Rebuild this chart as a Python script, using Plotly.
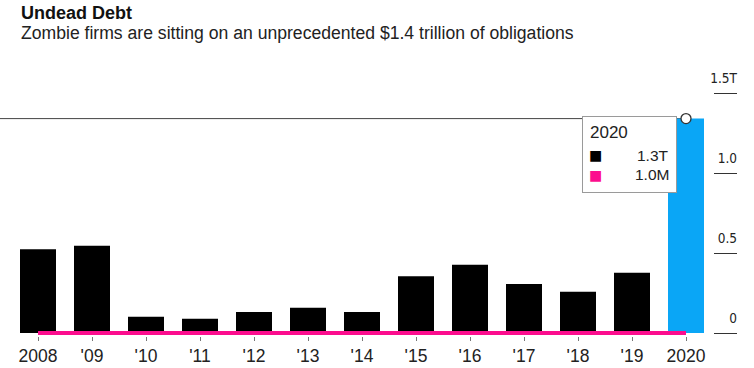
import plotly.graph_objects as go

# ---- data ----
year_labels = ["2008", "'09", "'10", "'11", "'12", "'13", "'14", "'15", "'16", "'17", "'18", "'19", "2020"]
zombie_debt_t = [0.523, 0.545, 0.102, 0.089, 0.131, 0.158, 0.131, 0.354, 0.427, 0.306, 0.258, 0.377, 1.34]
second_series_t = [0.000001, 0.000001, 0.000001, 0.000001, 0.000001, 0.000001, 0.000001,
                   0.000001, 0.000001, 0.000001, 0.000001, 0.000001, 0.000001]
y_tick_vals = [0, 0.5, 1.0, 1.5]
y_tick_text = ["0", "0.5", "1.0", "1.5T"]
tooltip_title = "2020"
tooltip_values = ["1.3T", "1.0M"]

title_text = "Undead Debt"
subtitle_text = "Zombie firms are sitting on an unprecedented $1.4 trillion of obligations"

# ---- style ----
W, H = 754, 368
L, R, T, B = 0, 713, 60, 336
PX_PER_T = 160.0
BLACK = "#000000"
PINK = "#fc0d8e"
BLUE = "#0aa6f6"
TXT = "#222222"
FONT = "Liberation Sans, Arial, sans-serif"
LABEL_LIFT = 15  # px the y tick labels sit above their tick lines

hl = len(year_labels) - 1
bar_colors = [BLACK] * hl + [BLUE]

y_lo = -(B - 333) / PX_PER_T
y_hi = y_lo + (B - T) / PX_PER_T

fig = go.Figure()
fig.add_trace(go.Bar(x=year_labels, y=zombie_debt_t, marker=dict(color=bar_colors, line=dict(width=0)),
                     hoverinfo="skip", showlegend=False))
fig.add_trace(go.Scatter(x=year_labels, y=second_series_t, mode="lines",
                         line=dict(color=PINK, width=4), hoverinfo="skip", showlegend=False))

# invisible helper trace so the label axis exists
fig.add_trace(go.Scatter(x=[year_labels[0]], y=[None], yaxis="y2", mode="markers",
                         hoverinfo="skip", showlegend=False))

# hover crosshair line at highlighted value
hv = zombie_debt_t[hl]
fig.add_shape(type="line", xref="paper", yref="y", x0=0, x1=(686 - L) / (R - L), y0=hv, y1=hv,
              line=dict(color="#444444", width=1), layer="below")
fig.add_trace(go.Scatter(x=[year_labels[hl]], y=[hv], mode="markers",
                         marker=dict(size=10, color="white", line=dict(color="#333333", width=1.3)),
                         cliponaxis=False, hoverinfo="skip", showlegend=False))


def px2paper_y(py):
    return (B - py) / (B - T)


def px2paper_x(px):
    return (px - L) / (R - L)


ann = []
ann.append(dict(text="<b>%s</b>" % title_text, xref="paper", yref="paper", x=px2paper_x(19), y=px2paper_y(12.5),
                xanchor="left", yanchor="middle", showarrow=False, font=dict(size=18, color="#111111", family=FONT)))
ann.append(dict(text=subtitle_text, xref="paper", yref="paper", x=px2paper_x(19), y=px2paper_y(33),
                xanchor="left", yanchor="middle", showarrow=False, font=dict(size=17.6, color=TXT, family=FONT)))

# tooltip anchored to the highlighted point (category axes use the serial index)
px_pt, py_pt = 686, 119


def tip(text, dx, dy, anchor="left", font=None):
    return dict(text=text, xref="x", yref="y", x=hl, y=hv, xanchor=anchor, yanchor="middle",
                xshift=dx, yshift=dy, showarrow=False, borderpad=0,
                font=font or dict(size=15.5, color=TXT, family=FONT))


ann.append(dict(text=" ", xref="x", yref="y", x=hl, y=hv, xanchor="right", yanchor="top",
                xshift=-(px_pt - 677), yshift=(py_pt - 116), showarrow=False, width=93, height=75,
                bgcolor="white", bordercolor="#9a9a9a", borderwidth=1, borderpad=0))
ann.append(tip(tooltip_title, 589 - px_pt, py_pt - 133, "left", dict(size=17, color=TXT, family=FONT)))
ann.append(tip("■", 595 - px_pt, py_pt - 155.5, "center", dict(size=14, color=BLACK, family="DejaVu Sans")))
ann.append(tip("■", 595 - px_pt, py_pt - 175.5, "center", dict(size=14, color=PINK, family="DejaVu Sans")))
ann.append(tip(tooltip_values[0], 670 - px_pt, py_pt - 156, "right"))
ann.append(tip(tooltip_values[1], 670 - px_pt, py_pt - 175, "right"))

x_lo = -0.5 - (38 - 27 - L) / 54.0

fig.update_layout(
    width=W, height=H, autosize=False,
    margin=dict(l=L, r=W - R, t=T, b=H - B, pad=0),
    paper_bgcolor="white", plot_bgcolor="white",
    bargap=1 - 36 / 54,
    showlegend=False,
    annotations=ann,
    font=dict(family=FONT, color=TXT),
    xaxis=dict(type="category", range=[x_lo, 12.5], showgrid=False, zeroline=False, showline=False,
               ticks="outside", ticklen=4, tickcolor="#777777", tickwidth=1,
               tickfont=dict(size=17.5, color=TXT, family=FONT)),
    yaxis=dict(range=[y_lo, y_hi], side="right", showgrid=False, zeroline=False, showline=False,
               tickvals=y_tick_vals, ticks="outside", ticklen=23,
               tickcolor="#333333", tickwidth=1, showticklabels=False),
    yaxis2=dict(range=[y_lo - LABEL_LIFT / PX_PER_T, y_hi - LABEL_LIFT / PX_PER_T], overlaying="y",
                side="right", showgrid=False, zeroline=False, showline=False,
                tickvals=y_tick_vals, ticktext=y_tick_text, ticks="",
                ticklabelposition="inside", ticklabelstandoff=-27,
                tickfont=dict(size=13.5, color=TXT,
                              family="DejaVu Sans Condensed, Liberation Sans Narrow, Liberation Sans")),
)

fig.write_html("out.html", config={"displayModeBar": False},
               post_script="document.body.style.margin='0';document.body.style.overflow='hidden';")
